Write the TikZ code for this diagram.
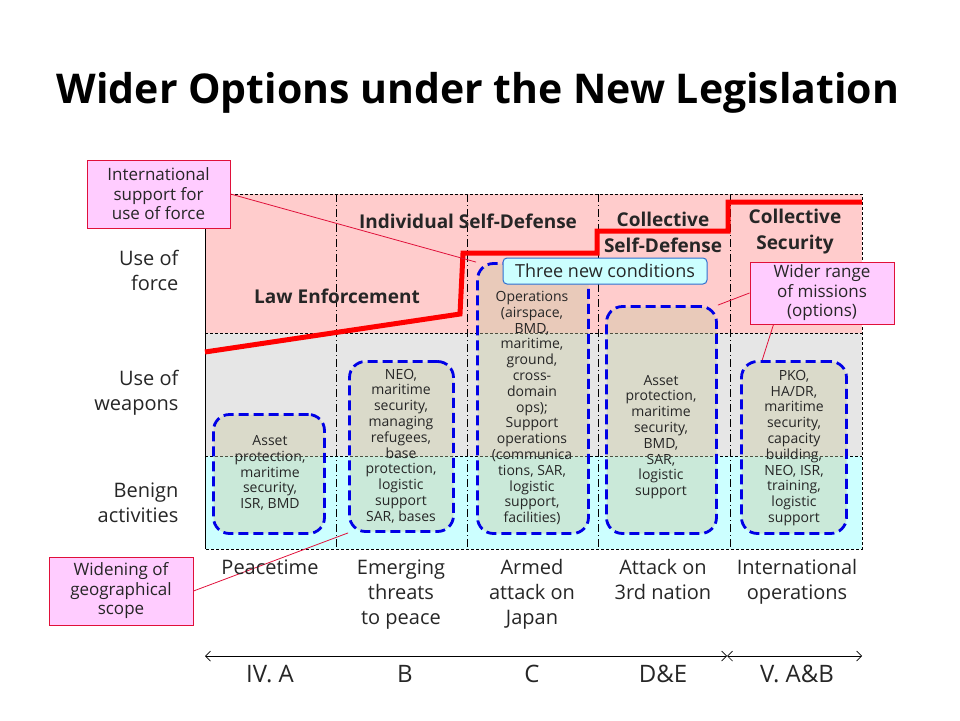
\documentclass[tikz,border=0pt]{standalone}
\usepackage{fontspec}
\setmainfont{Open Sans}
\usetikzlibrary{arrows.meta,positioning,calc}
\definecolor{BF}{HTML}{FFCCCC}
\definecolor{BW}{HTML}{E6E6E6}
\definecolor{BB}{HTML}{CCFFFF}
\definecolor{OB}{HTML}{0000E6}
\definecolor{OF}{HTML}{C8C8A0}
\definecolor{CM}{HTML}{FFCCFF}
\definecolor{CR}{HTML}{E0103A}
\definecolor{NB}{HTML}{2E6FD0}
\definecolor{TX}{HTML}{262626}

\begin{document}
\begin{tikzpicture}[x=1pt, y=-1pt,
    optbox/.style={draw=OB, line width=2.8pt, dash pattern=on 10pt off 5pt,
                   rounded corners=16pt, fill=OF, fill opacity=0.4, inner sep=0pt},
    boxtext/.style={align=center, text=TX,
                    font=\fontsize{14}{15.8}\selectfont},
    callout/.style={draw=CR, fill=CM, line width=1pt, align=center, inner sep=0pt,
                    text=TX, font=\fontsize{17}{19.5}\selectfont},
    headtext/.style={align=center, text=TX,
                     font=\fontsize{19}{26}\selectfont\bfseries},
    sidetext/.style={align=right, anchor=east, text=TX,
                     font=\fontsize{20}{25}\selectfont},
    coltext/.style={align=center, anchor=north, text=TX,
                    font=\fontsize{20}{25}\selectfont}]

    \useasboundingbox (0,0) rectangle (960,720);

    %% title
    \node[font=\fontsize{41}{41}\selectfont\bfseries] (title) at (478,93)
      {Wider Options under the New Legislation};

    %% bands
    \fill[BF] (205,194) rectangle (862,333);
    \fill[BW] (205,333) rectangle (862,456);
    \fill[BB] (205,456) rectangle (862,549);
    \draw[black, line width=0.6pt, dash pattern=on 3pt off 2pt]
      (205,194) -- (862,194) -- (862,549) -- (205,549)
      (205,333) -- (862,333)
      (205,456) -- (862,456);
    \draw[black, line width=0.6pt] (205,194) -- (205,549);
    \foreach \cx in {336,467,598,730}{
      \draw[black, line width=0.6pt, dash pattern=on 8pt off 3pt on 1pt off 3pt]
        (\cx,194) -- (\cx,549);
    }

    %% row labels
    \node[sidetext] (rowforce) at (182,270) {Use of\\force};
    \node[sidetext] (rowweap)  at (182,393) {Use of\\weapons};
    \node[sidetext] (rowbenign) at (182,503) {Benign\\activities};

    %% headers
    \node[headtext] (hlaw)  at (337,296) {Law Enforcement};
    \node[headtext] (hind)  at (468,221) {Individual Self-Defense};
    \node[headtext] (hcoll) at (663,232) {Collective\\Self-Defense};
    \node[headtext] (hsec)  at (795,232) {Collective\\Security};

    %% red step line
    \draw[red, line width=5pt, line join=miter]
      (205,352) -- (460,314) -- (463,253) -- (597,253) -- (597,231)
      -- (728,231) -- (728,202) -- (862,202);

    %% option boxes
    \node[optbox, minimum width=111, minimum height=119] (peacebox)  at (269,474) {};
    \node[optbox, minimum width=104, minimum height=170] (emergebox) at (401.5,446.5) {};
    \node[optbox, minimum width=111, minimum height=270] (armedbox)  at (533,398.5) {};
    \node[optbox, minimum width=110, minimum height=227] (thirdbox)  at (661.5,420) {};
    \node[optbox, minimum width=105, minimum height=172] (intlbox)   at (794,447.5) {};

    \node[boxtext] (peacetxt) at (270,473)
      {Asset\\protection,\\maritime\\security,\\ISR, BMD};
    \node[boxtext] (emergetxt) at (401,446)
      {NEO,\\maritime\\security,\\managing\\refugees,\\base\\protection,\\logistic\\support\\SAR, bases};
    \node[boxtext] (armedtxt) at (532,408)
      {Operations\\(airspace,\\BMD,\\maritime,\\ground,\\cross-\\domain\\ops);\\Support\\operations\\(communica\\tions, SAR,\\logistic\\support,\\facilities)};
    \node[boxtext] (thirdtxt) at (661,437)
      {Asset\\protection,\\maritime\\security,\\BMD,\\SAR,\\logistic\\support};
    \node[boxtext] (intltxt) at (794,448)
      {PKO,\\HA/DR,\\maritime\\security,\\capacity\\building,\\NEO, ISR,\\training,\\logistic\\support};

    %% three new conditions
    \node[draw=NB, fill=BB, line width=1pt, rounded corners=4pt, inner sep=0pt,
          minimum width=204, minimum height=26, text=TX,
          font=\fontsize{18}{18}\selectfont] (conds) at (605,271)
      {Three new conditions};

    %% callouts
    \node[callout, minimum width=143, minimum height=68] (suppcall) at (158.5,194)
      {International\\support for\\use of force};
    \node[callout, minimum width=144, minimum height=62] (widercall) at (822,293)
      {Wider range\\of missions\\(options)};
    \node[callout, minimum width=144, minimum height=68] (geocall) at (121,591)
      {Widening of\\geographical\\scope};

    \draw[CR, line width=0.8pt] (suppcall.east) -- (armedbox.north west);
    \draw[CR, line width=0.8pt] (widercall.west) -- (thirdbox.north east);
    \draw[CR, line width=0.8pt] (widercall.213) -- (intlbox.110);
    \draw[CR, line width=0.8pt] (geocall.east) -- (emergebox.south west);

    %% column labels
    \node[coltext] (cpeace) at (270,556) {Peacetime};
    \node[coltext] (cemerge) at (401,556) {Emerging\\threats\\to peace};
    \node[coltext] (carmed) at (532,556) {Armed\\attack on\\Japan};
    \node[coltext] (cthird) at (663,556) {Attack on\\3rd nation};
    \node[coltext] (cintl) at (797,556) {International\\operations};

    %% chapter arrows
    \coordinate (ta) at (205,656);
    \coordinate (tb) at (727,656);
    \coordinate (tc) at (862,656);
    \draw[{Straight Barb[length=5pt,width=10pt]}-{Straight Barb[length=5pt,width=10pt]},
          line width=0.7pt] (ta) -- (tb);
    \draw[{Straight Barb[length=5pt,width=10pt]}-{Straight Barb[length=5pt,width=10pt]},
          line width=0.7pt] (tb) -- (tc);

    \foreach \lx/\lt in {270/IV. A, 405/B, 532/C, 663/D\&E, 797/V. A\&B}{
      \node[text=TX, font=\fontsize{24}{24}\selectfont] at (\lx,674) {\lt};
    }

\end{tikzpicture}
\end{document}
